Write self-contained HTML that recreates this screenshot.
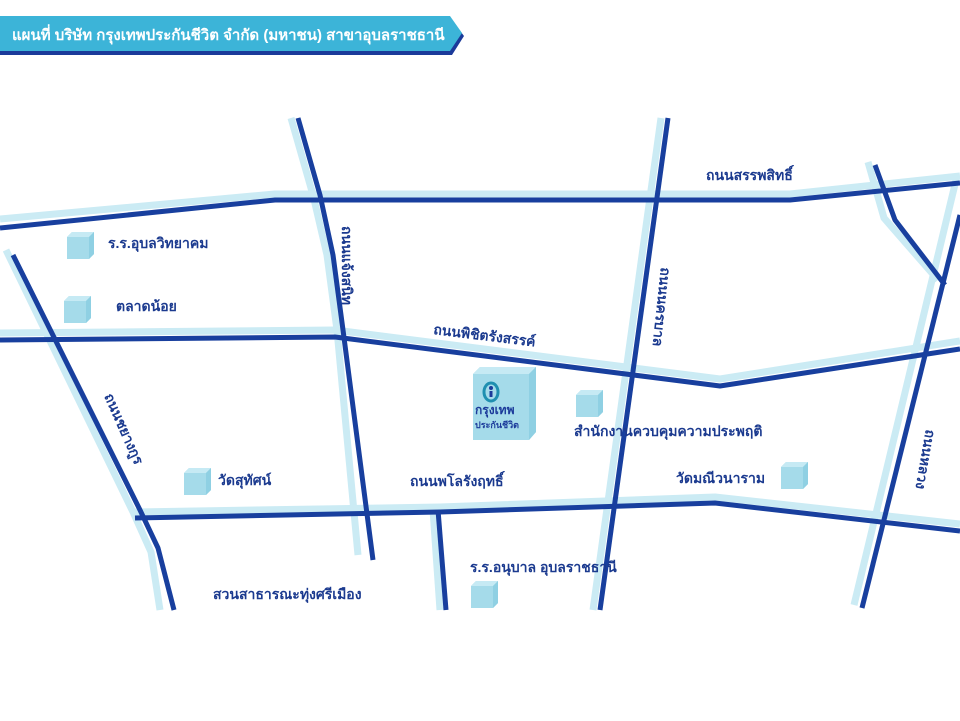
<!DOCTYPE html>
<html><head><meta charset="utf-8"><style>
body{margin:0;width:960px;height:721px;background:#fff;overflow:hidden;font-family:"Liberation Sans","Noto Sans CJK SC",sans-serif}
</style></head><body>
<svg width="960" height="721" xmlns="http://www.w3.org/2000/svg" style="position:absolute;left:0;top:0">
<defs>
<g id="cube"><polygon points="0,5 5,0 27,0 27,22 22,27 0,27" fill="#a5dbea"/><polygon points="0,5 5,0 27,0 22,5" fill="#c6eaf4"/><polygon points="22,5 27,0 27,22 22,27" fill="#8fd0e3"/></g>
</defs>
<!-- header -->
<polygon points="0,20 452,20 464,36 452,55 0,55" fill="#1b3a9a"/>
<polygon points="0,16 450,16 462,33 450,51 0,51" fill="#3cb4d8"/>
<text x="12" y="40" fill="#fff" font-size="15" font-weight="bold">แผนที่ บริษัท กรุงเทพประกันชีวิต จำกัด (มหาชน) สาขาอุบลราชธานี</text>
<g fill="none" stroke-linejoin="round">
<g stroke="#cbebf4" stroke-width="7">
<polyline points="0,219 275,194 790,194 960,176"/>
<polyline points="0,333 335,330 720,379 960,341"/>
<polyline points="135,512 440,507 715,497 960,524"/>
<polyline points="6,250 133,512 151,552 160,610"/>
<polyline points="291,118 313,195 327,255 337,330 358,555"/>
<polyline points="661,118 593,610"/>
<polyline points="957,176 854,605"/>
<polyline points="868,162 884,218 938,280"/>
<polyline points="433,510 440,610"/>
</g>
<g stroke="#183f9e" stroke-width="5">
<polyline points="0,228 275,200 790,200 960,183"/>
<polyline points="0,340 335,337 720,386 960,349"/>
<polyline points="135,518 440,512 715,503 960,531"/>
<polyline points="13,255 140,510 158,548 174,610"/>
<polyline points="298,118 320,195 333,255 343,330 373,560"/>
<polyline points="668,118 600,610"/>
<polyline points="960,215 862,608"/>
<polyline points="875,165 895,220 945,285"/>
<polyline points="438,510 446,610"/>
</g>
</g>
<use href="#cube" x="67" y="232"/>
<use href="#cube" x="64" y="296"/>
<use href="#cube" x="184" y="468"/>
<use href="#cube" x="471" y="581"/>
<use href="#cube" x="576" y="390"/>
<use href="#cube" x="781" y="462"/>
<g>
<polygon points="473,374 480,367 536,367 536,432 529,440 473,440" fill="#a5dbea"/>
<polygon points="473,374 480,367 536,367 529,374" fill="#c6eaf4"/>
<polygon points="529,374 536,367 536,432 529,440" fill="#8fd0e3"/>
<ellipse cx="491" cy="392" rx="7" ry="9" fill="none" stroke="#1f8fb0" stroke-width="3"/>
<circle cx="491" cy="388" r="2" fill="#1b3a9a"/>
<rect x="489.5" y="391" width="3" height="6" fill="#1b3a9a"/>
<text x="475" y="414" fill="#1b3a9a" font-size="12" font-weight="bold">กรุงเทพ</text>
<text x="475" y="428" fill="#1b3a9a" font-size="9" font-weight="bold">ประกันชีวิต</text>
</g>
<g fill="#1b3a8f" font-size="14" font-weight="bold">
<text x="108" y="248">ร.ร.อุบลวิทยาคม</text>
<text x="116" y="311">ตลาดน้อย</text>
<text x="218" y="485">วัดสุทัศน์</text>
<text x="213" y="599">สวนสาธารณะทุ่งศรีเมือง</text>
<text x="470" y="572">ร.ร.อนุบาล อุบลราชธานี</text>
<text x="574" y="436">สำนักงานควบคุมความประพฤติ</text>
<text x="676" y="483">วัดมณีวนาราม</text>
<text x="410" y="486">ถนนพโลรังฤทธิ์</text>
<text x="433" y="334" transform="rotate(7 433 334)">ถนนพิชิตรังสรรค์</text>
<text x="706" y="180">ถนนสรรพสิทธิ์</text>
<text x="342" y="226" transform="rotate(90 342 226)">ถนนแจ้งสนิท</text>
<text x="104" y="396" transform="rotate(66 104 396)">ถนนชยางกูร</text>
<text x="661" y="267" transform="rotate(96 661 267)">ถนนนครบาล</text>
<text x="926" y="429" transform="rotate(100 926 429)">ถนนหลวง</text>
</g>
</svg>
</body></html>
